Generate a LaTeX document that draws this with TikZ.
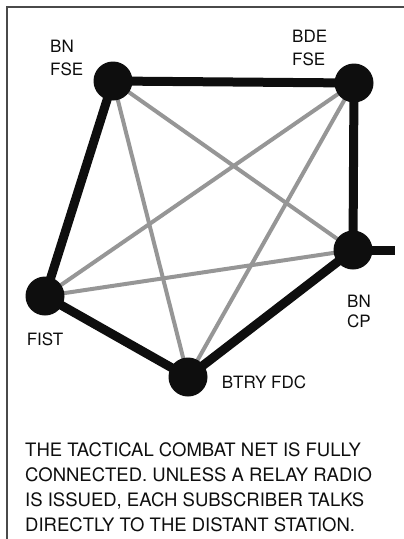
\documentclass[tikz,border=0pt]{standalone}
\usepackage{fontspec}
\setmainfont{TeX Gyre Heros}
\usepackage{xcolor}
\usetikzlibrary{positioning,backgrounds}
\definecolor{netblack}{HTML}{0E0E0E}
\definecolor{netgray}{HTML}{969696}
\definecolor{framegray}{HTML}{4A4A4A}
\tikzset{
  stn/.style={circle, fill=netblack, minimum size=39pt, inner sep=0pt},
  stnlabel/.style={font=\fontsize{17}{23}\selectfont, align=left, inner sep=0pt, text=netblack},
  note/.style={font=\fontsize{18.5}{25}\selectfont, align=left, inner sep=0pt, text=netblack},
  trunk/.style={line width=9pt, netblack},
  cross/.style={line width=4pt, netgray},
}

\begin{document}
\begin{tikzpicture}[x=1pt, y=-1pt]
\useasboundingbox (0,0) rectangle (404,539);

% ---- page frame (top and left rules only) ----
\draw[line width=1.2pt, framegray] (404,7) -- (7,7) -- (7,539);

% ---- stations ----
\node[stn] (fse)  at (113,81)  {};
\node[stn] (bde)  at (354,83)  {};
\node[stn] (cp)   at (353,250) {};
\node[stn] (fist) at (45,296)  {};
\node[stn] (fdc)  at (188,377) {};
\coordinate (cpout) at (395,250);

\node[stnlabel, anchor=north west] (fselbl) at (50,40)  {BN\\FSE};
\node[stnlabel, anchor=north west] (bdelbl) at (292,30) {BDE\\FSE};
\node[stnlabel, anchor=north west] (cplbl)  at (347,295) {BN\\[-3pt]CP};
\node[stnlabel, below=17pt of fist] (fistlbl) {FIST};
\node[stnlabel, right=14pt of fdc, yshift=-5pt] (fdclbl) {BTRY FDC};

% ---- links (behind the stations) ----
\begin{scope}[on background layer]
  % cross links
  \draw[cross] (fse.center) -- (cp.center);
  \draw[cross] (fse.center) -- (fdc.center);
  \draw[cross] (bde.center) -- (fist.center);
  \draw[cross] (bde.center) -- (fdc.center);
  \draw[cross] (fist.center) -- (cp.center);
  % ring
  \draw[trunk] (fse.center) -- (bde.center) -- (cp.center) -- (fdc.center)
               -- (fist.center) -- (fse.center) -- cycle;
  \draw[trunk] (cp.center) -- (cpout);
\end{scope}

\node[note, anchor=north west] (caption) at (25,442)
  {THE TACTICAL COMBAT NET IS FULLY\\CONNECTED. UNLESS A RELAY RADIO\\
   IS ISSUED, EACH SUBSCRIBER TALKS\\DIRECTLY TO THE DISTANT STATION.};

\end{tikzpicture}
\end{document}
